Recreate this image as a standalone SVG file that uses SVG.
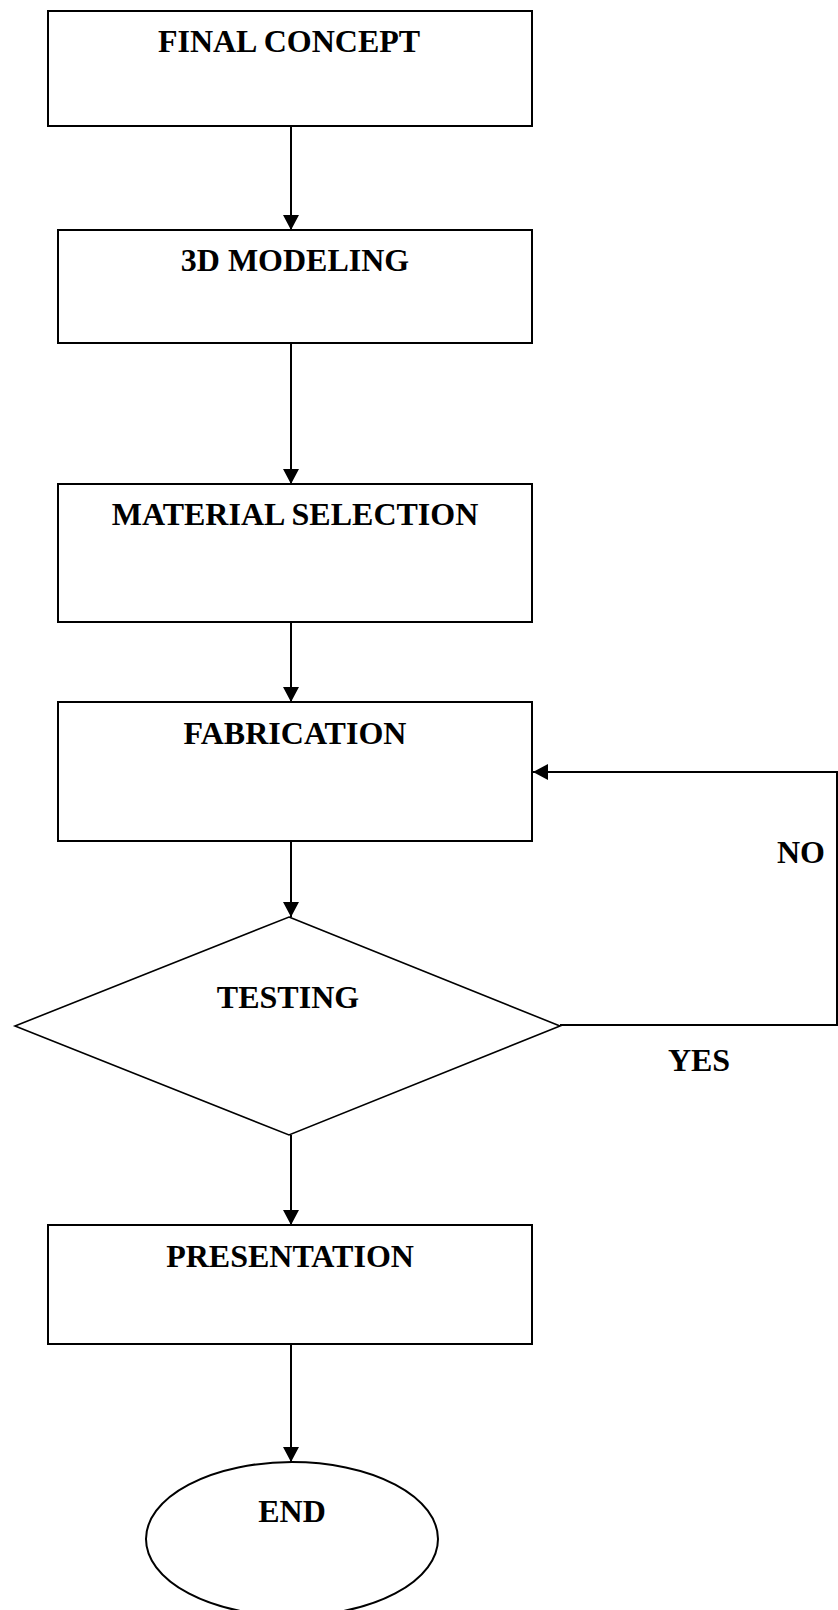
<svg xmlns="http://www.w3.org/2000/svg" width="838" height="1610" viewBox="0 0 838 1610">
<style>
.box{fill:#fff;stroke:#000;stroke-width:2}
.dia{fill:#fff;stroke:#000;stroke-width:1.6}
.lbl{font-family:"Liberation Serif","Times New Roman",serif;font-weight:bold;font-size:32px;fill:#000;text-anchor:middle}
.edge{fill:none;stroke:#000;stroke-width:2}
</style>
<defs>
<marker id="ah" markerUnits="userSpaceOnUse" markerWidth="16" markerHeight="16" viewBox="0 0 16 16" refX="15" refY="8" orient="auto">
<path d="M0,0 L15,8 L0,16 Z" fill="#000"/>
</marker>
</defs>
<rect width="838" height="1610" fill="#fff"/>
<g id="connectors">
<line class="edge" x1="291" y1="126" x2="291" y2="230" marker-end="url(#ah)"/>
<line class="edge" x1="291" y1="343" x2="291" y2="484" marker-end="url(#ah)"/>
<line class="edge" x1="291" y1="622" x2="291" y2="702" marker-end="url(#ah)"/>
<line class="edge" x1="291" y1="841" x2="291" y2="917" marker-end="url(#ah)"/>
<polyline class="edge" points="560,1025 837,1025 837,772 533,772" marker-end="url(#ah)"/>
<line class="edge" x1="291" y1="1135" x2="291" y2="1225" marker-end="url(#ah)"/>
<line class="edge" x1="291" y1="1344" x2="291" y2="1462" marker-end="url(#ah)"/>
</g>
<g id="final-concept">
<rect class="box" x="48" y="11" width="484" height="115"/>
<text class="lbl" x="289" y="52">FINAL CONCEPT</text>
</g>
<g id="modeling-3d">
<rect class="box" x="58" y="230" width="474" height="113"/>
<text class="lbl" x="295" y="271">3D MODELING</text>
</g>
<g id="material-selection">
<rect class="box" x="58" y="484" width="474" height="138"/>
<text class="lbl" x="295" y="525">MATERIAL SELECTION</text>
</g>
<g id="fabrication">
<rect class="box" x="58" y="702" width="474" height="139"/>
<text class="lbl" x="295" y="744">FABRICATION</text>
</g>
<g id="testing">
<polygon class="dia" points="289,917 560,1026 289,1135 15,1026"/>
<text class="lbl" x="288" y="1008">TESTING</text>
</g>
<g id="label-no">
<text class="lbl" x="801" y="863">NO</text>
</g>
<g id="label-yes">
<text class="lbl" x="699" y="1071">YES</text>
</g>
<g id="presentation">
<rect class="box" x="48" y="1225" width="484" height="119"/>
<text class="lbl" x="290" y="1267">PRESENTATION</text>
</g>
<g id="end">
<ellipse class="box" cx="292" cy="1539" rx="146" ry="77"/>
<text class="lbl" x="292" y="1522">END</text>
</g>
</svg>
